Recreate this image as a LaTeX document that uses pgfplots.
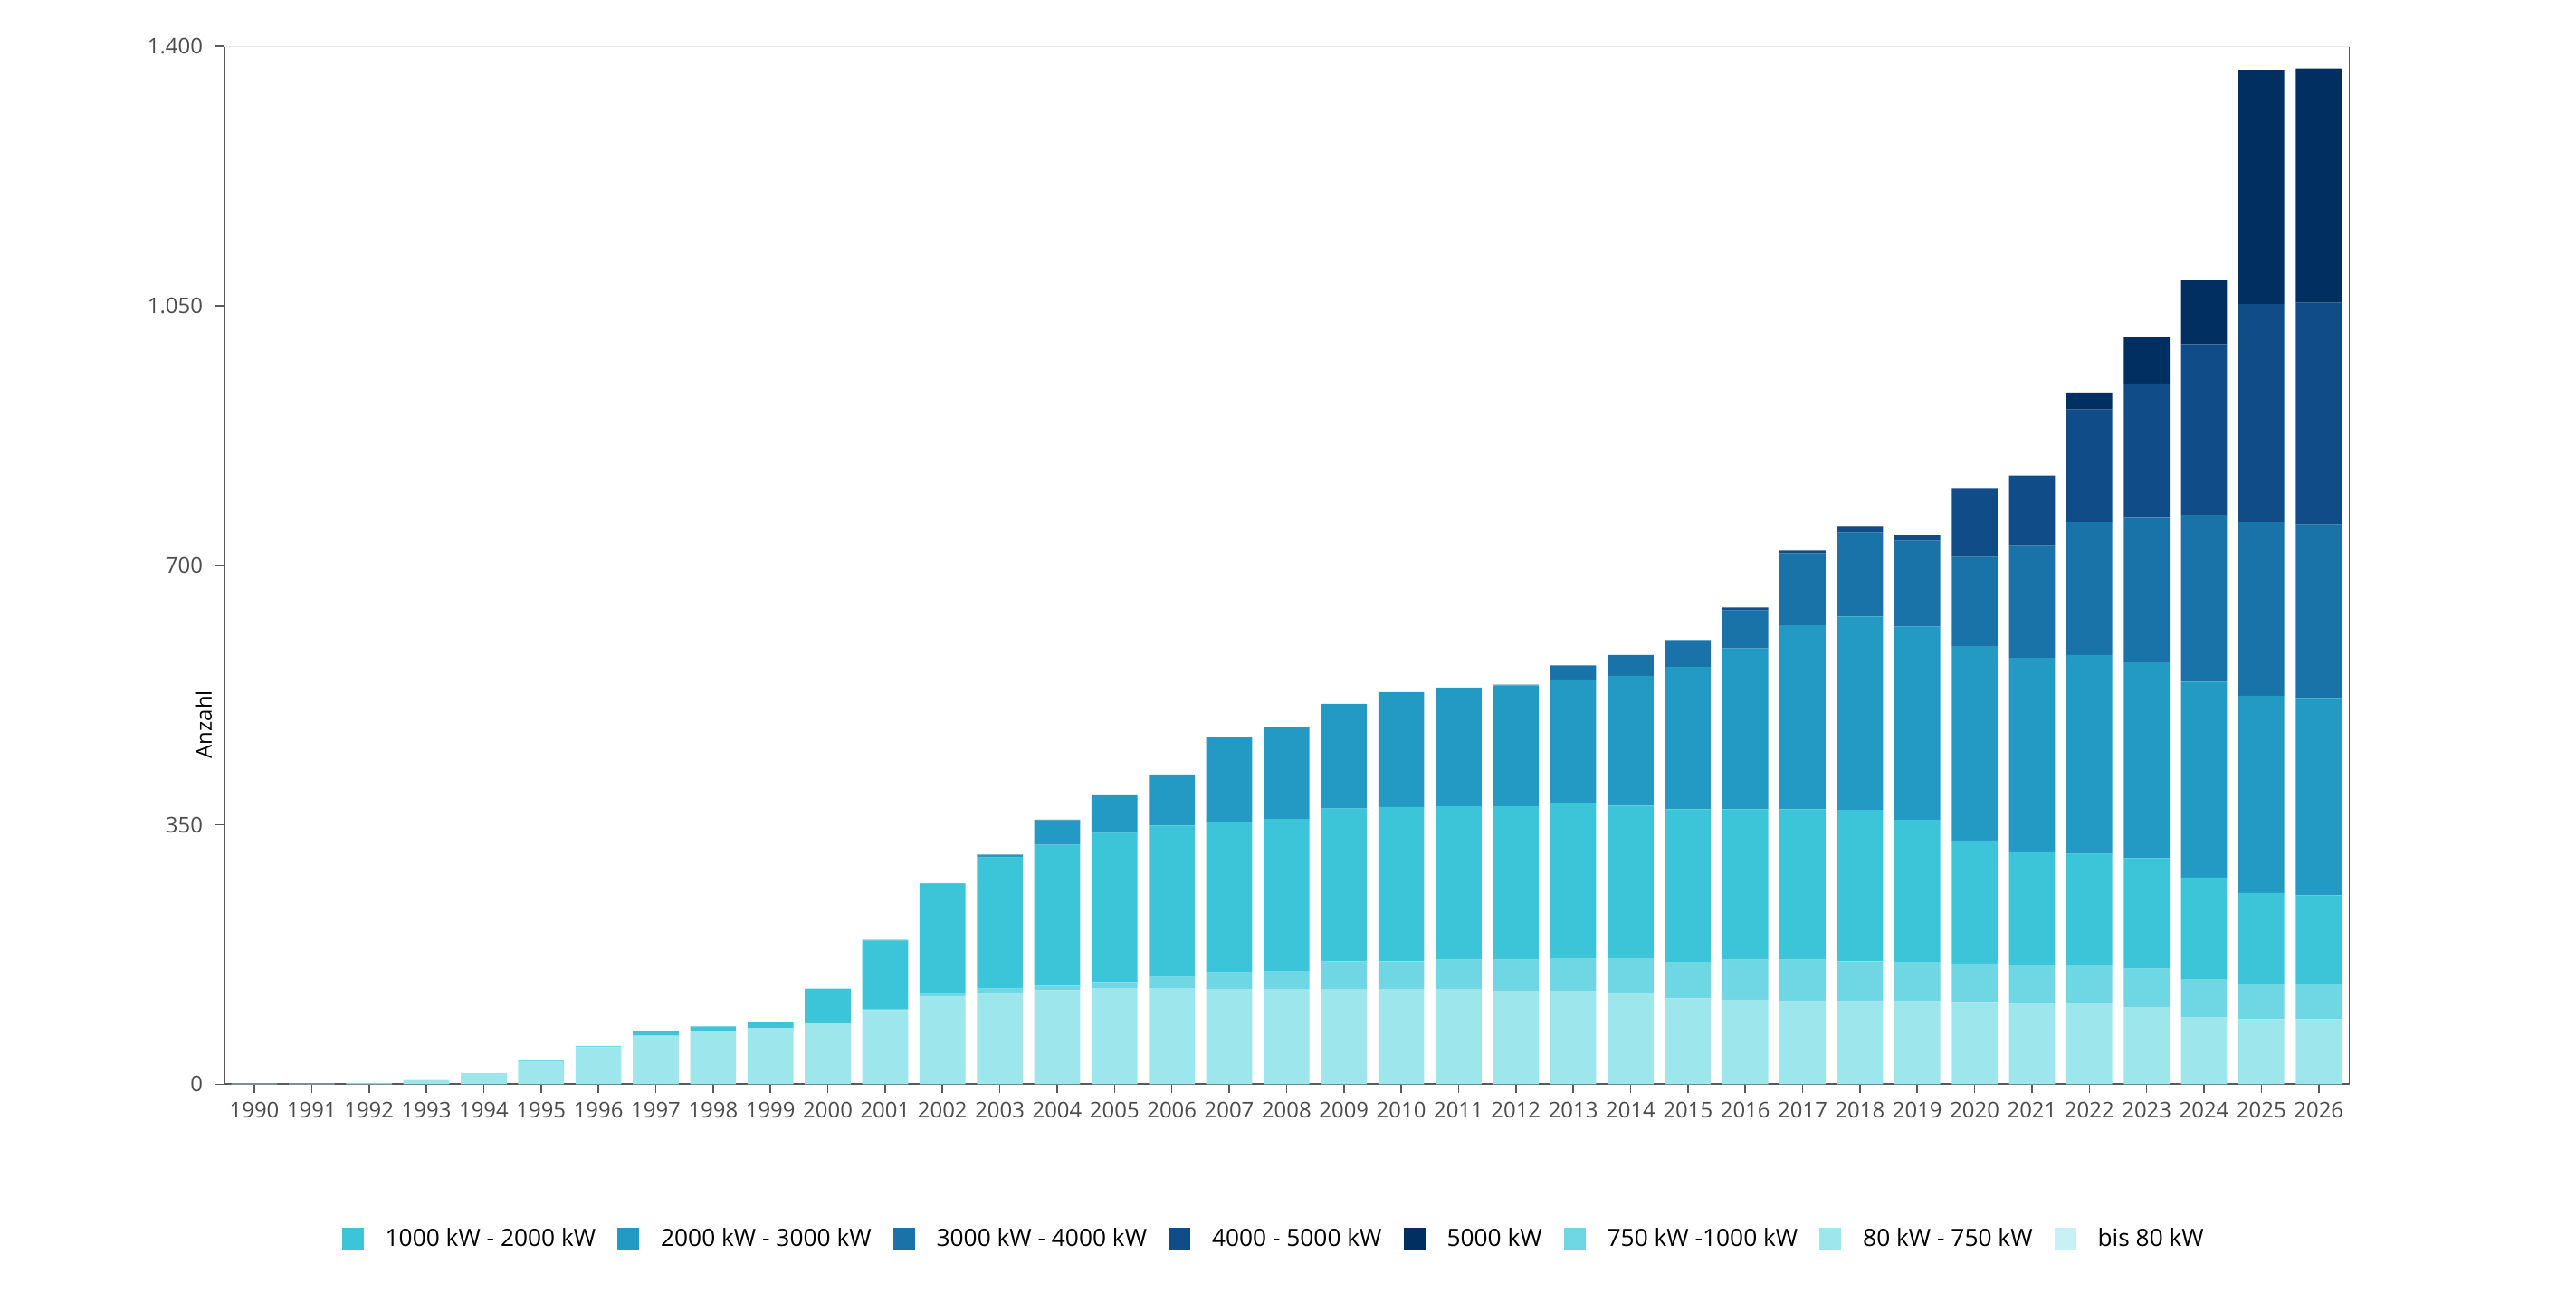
\documentclass[border=0pt]{standalone}
\usepackage{pgfplots}
\usepackage{pgfplotstable}
\pgfplotsset{compat=1.18}
\usepackage{fontspec}
\setmainfont{Open Sans}
\definecolor{cA}{HTML}{C8F1F5}
\definecolor{cB}{HTML}{9DE6EC}
\definecolor{cC}{HTML}{6FD7E3}
\definecolor{cD}{HTML}{3CC4D8}
\definecolor{cE}{HTML}{239AC4}
\definecolor{cF}{HTML}{1A73A8}
\definecolor{cG}{HTML}{0F4C88}
\definecolor{cH}{HTML}{022F62}
\pgfplotstableread{
x  a  b   c   d   e   f   g   h
0  1  0   0   0   0   0   0   0
1  1  0   0   0   0   0   0   0
2  1  1   0   0   0   0   0   0
3  0  6   0   0   0   0   0   0
4  0  15  0   0   0   0   0   0
5  0  31  1   0   0   0   0   0
6  0  50  2   0   0   0   0   0
7  0  65  1   6   0   0   0   0
8  0  71  1   6   0   0   0   0
9  0  76  0   8   0   0   0   0
10 0  82  0   47  0   0   0   0
11 0  100 2   92  1   0   0   0
12 0  118 5   147 1   0   0   0
13 0  124 5   177 4   0   0   0
14 0  127 6   190 33  1   0   0
15 0  129 9   201 51  0   0   0
16 0  129 16  204 69  0   0   0
17 0  128 23  203 115 0   0   0
18 0  128 25  205 123 0   0   0
19 0  128 38  206 141 0   0   0
20 0  128 38  208 155 0   0   0
21 0  128 40  207 160 0   0   0
22 0  126 42  207 163 1   0   0
23 0  126 44  209 167 19  0   0
24 0  124 46  206 175 28  0   0
25 0  116 49  206 192 36  0   0
26 0  114 54  203 217 51  4   0
27 0  113 55  203 248 97  4   0
28 0  113 53  204 261 113 8   1
29 0  113 52  192 260 116 8   0
30 0  111 52  166 262 120 93  0
31 0  110 51  152 262 152 94  0
32 0  110 51  150 268 179 152 23
33 0  104 52  149 264 196 180 63
34 0  90  52  137 264 225 230 87
35 0  88  47  123 266 234 294 316
36 0  88  47  120 266 234 299 316
}\data
\begin{document}
\begin{tikzpicture}[x=1bp,y=1bp]
\useasboundingbox (-62bp,-60bp) rectangle (649.25bp,299.5bp);
\begin{axis}[
  at={(0,0)}, anchor=south west,
  scale only axis, width=586.75bp, height=286.75bp,
  ybar stacked, bar width=0.8,
  xmin=-0.52, xmax=36.54, ymin=0, ymax=1400,
  axis x line*=bottom, axis y line*=left,
  axis line style={draw=black!65, line width=0.5pt},
  xtick={0,...,36},
  xticklabels={1990,1991,1992,1993,1994,1995,1996,1997,1998,1999,2000,2001,2002,2003,2004,2005,2006,2007,2008,2009,2010,2011,2012,2013,2014,2015,2016,2017,2018,2019,2020,2021,2022,2023,2024,2025,2026},
  ytick={0,350,700,1050,1400},
  yticklabels={0,350,700,{1.050},{1.400}},
  tick style={draw=black!65, line width=0.4pt},
  tick align=outside, major tick length=2.5bp,
  ticklabel style={font=\fontsize{6}{7}\selectfont, text=black!70},
  xticklabel style={yshift=1bp},
  ylabel={Anzahl},
  ylabel style={font=\fontsize{6}{7}\selectfont, at={(axis description cs:0,0.5)}, xshift=-44bp, anchor=south},
  legend style={at={(0.495,-0.124)}, anchor=north, draw=none, legend columns=-1,
    font=\fontsize{6.6}{8}\selectfont, column sep=4bp,
    /tikz/every even column/.append style={column sep=4bp}},
  legend image code/.code={\fill[#1] (0bp,-2.6bp) rectangle (6bp,3.4bp);},
  every axis plot/.append style={draw=none},
]
\addplot[fill=cA, forget plot] table[x=x,y=a]{\data};
\addplot[fill=cB, forget plot] table[x=x,y=b]{\data};
\addplot[fill=cC, forget plot] table[x=x,y=c]{\data};
\addplot[fill=cD, forget plot] table[x=x,y=d]{\data};
\addplot[fill=cE, forget plot] table[x=x,y=e]{\data};
\addplot[fill=cF, forget plot] table[x=x,y=f]{\data};
\addplot[fill=cG, forget plot] table[x=x,y=g]{\data};
\addplot[fill=cH, forget plot] table[x=x,y=h]{\data};
\addlegendimage{fill=cD}\addlegendentry{1000 kW - 2000 kW}
\addlegendimage{fill=cE}\addlegendentry{2000 kW - 3000 kW}
\addlegendimage{fill=cF}\addlegendentry{3000 kW - 4000 kW}
\addlegendimage{fill=cG}\addlegendentry{4000 - 5000 kW}
\addlegendimage{fill=cH}\addlegendentry{5000 kW}
\addlegendimage{fill=cC}\addlegendentry{750 kW -1000 kW}
\addlegendimage{fill=cB}\addlegendentry{80 kW - 750 kW}
\addlegendimage{fill=cA}\addlegendentry{bis 80 kW}
\draw[black!8, line width=0.4pt] (axis cs:-0.52,1400) -- (axis cs:36.54,1400);
\draw[black!65, line width=0.5pt] (axis cs:36.54,0) -- (axis cs:36.54,1400);
\end{axis}
\end{tikzpicture}
\end{document}
